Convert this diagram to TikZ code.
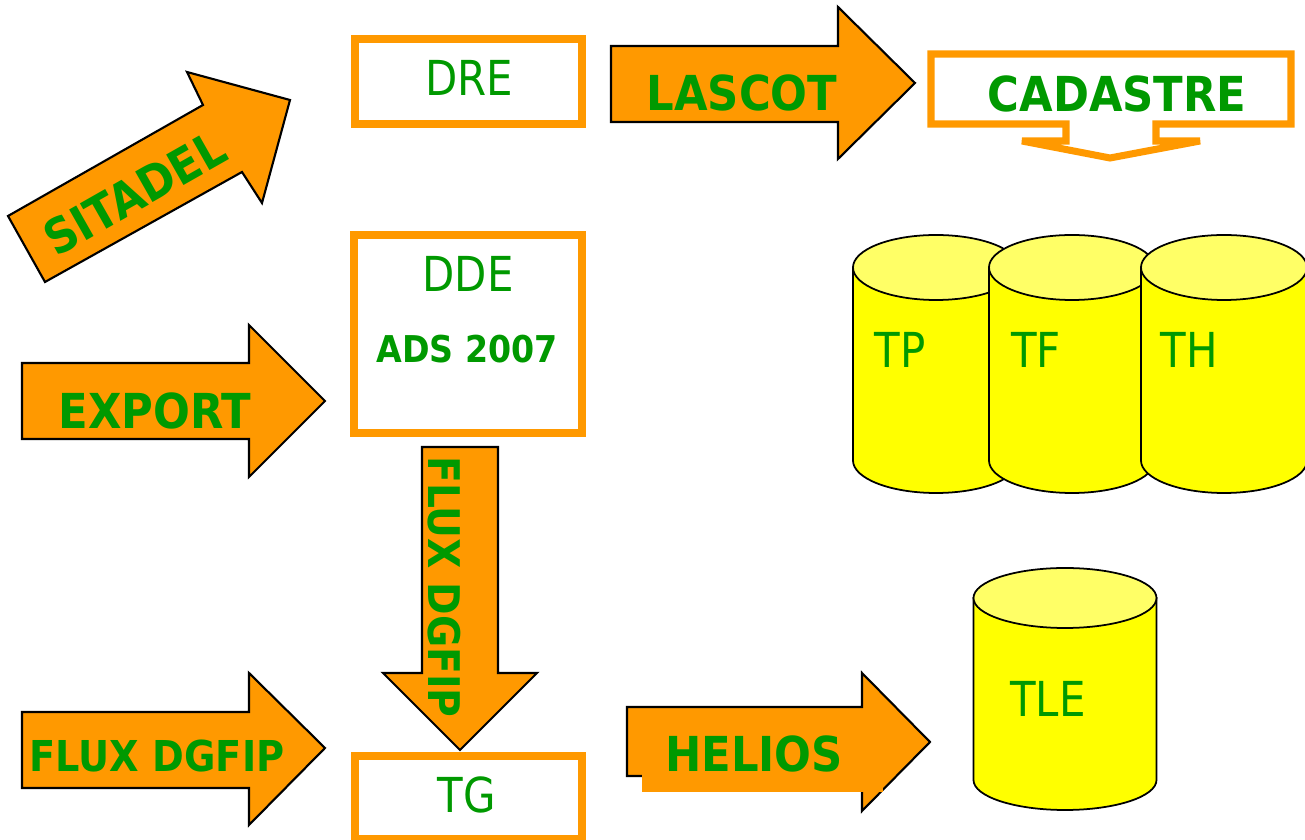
\documentclass[tikz,border=0pt]{standalone}
\usepackage{fontspec}
\setmainfont{DejaVu Sans}[FakeStretch=0.87,BoldFeatures={FakeStretch=0.9}]
\definecolor{orangeF}{HTML}{FF9900}
\definecolor{vertT}{HTML}{009900}
\definecolor{jaune}{HTML}{FFFF00}
\definecolor{jauneC}{HTML}{FFFF66}
% cylindre : centre x, y haut, y bas, rayon x, rayon y
\newcommand\drum[5]{%
	\filldraw[drumbody] (#1-#4,#2)--(#1-#4,#3) arc[start angle=180,end angle=0,x radius=#4,y radius=#5]--(#1+#4,#2)--cycle;
	\filldraw[drumtop] (#1,#2) ellipse[x radius=#4,y radius=#5];}
\begin{document}
\begin{tikzpicture}[x=0.01cm,y=-0.01cm,
		fleche/.style={fill=orangeF,draw=black,line width=0.6pt},
		cadre/.style={draw=orangeF,line width=2.3pt},
		drumbody/.style={fill=jaune,draw=black,line width=0.5pt},
		drumtop/.style={fill=jauneC,draw=black,line width=0.5pt},
		lbl/.style={text=vertT,inner sep=0pt,anchor=base,font=\fontsize{13.7}{16}\selectfont},
		blbl/.style={lbl,font=\fontsize{13.7}{16}\selectfont\bfseries}]
	\useasboundingbox (0,0) rectangle (1305,840);
	% cadres
	\draw[cadre] (355,39) rectangle (582,124);
	\node[lbl] (dre) at (469,96) {DRE};
	\draw[cadre] (354,235) rectangle (582,433);
	\node[lbl] (dde) at (468,292) {DDE};
	\node[blbl,font=\fontsize{10.5}{12}\selectfont\bfseries] (ads) at (467,363) {ADS 2007};
	\draw[cadre] (355,756) rectangle (582,839);
	\node[lbl] (tg) at (467,813) {TG};
	\draw[cadre,line width=2pt] (931,54)--(1291,54)--(1291,124)--(1156,124)--(1156,141)--(1200,141)--(1110,158)--(1022,141)--(1066,141)--(1066,124)--(931,124)--cycle;
	\node[blbl] (cadastre) at (1117,112) {CADASTRE};
	% fleches
	\draw[fleche] (8,216)--(203,105)--(187,72)--(290,100)--(262,203)--(242,172)--(45,282)--cycle;
	\node[blbl,rotate=29.6,anchor=center] (sitadel) at (135,193) {SITADEL};
	\draw[fleche] (611,46)--(838,46)--(838,7)--(915,83)--(838,159)--(838,122)--(611,122)--cycle;
	\node[blbl] (lascot) at (742,111) {LASCOT};
	\draw[fleche] (22,363)--(249,363)--(249,325)--(325,401)--(249,477)--(249,439)--(22,439)--cycle;
	\node[blbl] (export) at (155,429) {EXPORT};
	\draw[fleche] (422,447)--(498,447)--(498,673)--(537,673)--(460,750)--(383,673)--(422,673)--cycle;
	\node[blbl,font=\fontsize{12.4}{14}\selectfont\bfseries,rotate=-90,anchor=center] (fluxv) at (444,587) {FLUX DGFIP};
	\draw[fleche] (22,712)--(249,712)--(249,673)--(325,748)--(249,825)--(249,788)--(22,788)--cycle;
	\node[blbl,font=\fontsize{12.1}{14}\selectfont\bfseries] (fluxh) at (157,772) {FLUX DGFIP};
	\draw[fleche] (627,707)--(862,707)--(862,673)--(930,742)--(862,811)--(862,776)--(627,776)--cycle;
	\fill[orangeF] (642,716) rectangle (883,792);
	\node[blbl] (helios) at (754,772) {HELIOS};
	% tables
	\drum{936}{267.5}{460.5}{83}{32.5}
	\node[lbl] (tp) at (900,368) {TP};
	\drum{1072}{267.5}{460.5}{83}{32.5}
	\node[lbl] (tf) at (1036,368) {TF};
	\drum{1224}{267.5}{460.5}{83}{32.5}
	\node[lbl] (th) at (1189,368) {TH};
	\drum{1065}{598}{780}{91.5}{30}
	\node[lbl] (tle) at (1048,717) {TLE};
\end{tikzpicture}
\end{document}
